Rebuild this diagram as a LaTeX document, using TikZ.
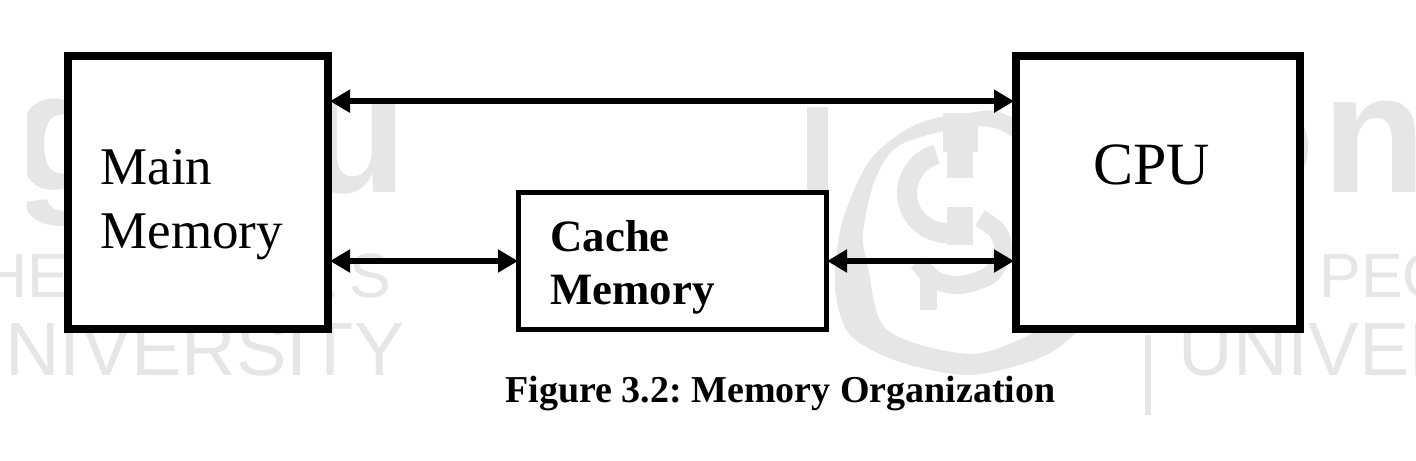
\documentclass[tikz,border=0pt]{standalone}
\usepackage{fontspec}
\setmainfont{Liberation Serif}
\newfontfamily\wmfont{Liberation Sans}
\usetikzlibrary{arrows.meta,calc}
\definecolor{wm}{HTML}{E6E6E6}
\tikzset{
  bigbox/.style={draw=black,fill=white,line width=4pt,minimum height=136.5pt,inner sep=0pt},
  midbox/.style={draw=black,fill=white,line width=2.5pt,minimum height=68.5pt,minimum width=154pt,inner sep=0pt},
  biarrow/.style={line width=3pt,{Triangle[length=10pt,width=11pt]}-{Triangle[length=10pt,width=11pt]},shorten <=-1pt,shorten >=-1pt},
  label/.style={anchor=base west,inner sep=0pt,text=black},
  wmtext/.style={anchor=base west,inner sep=0pt,text=wm},
  wmbig/.style={wmtext,font=\wmfont\bfseries\fontsize{85pt}{85pt}\selectfont},
  wmmid/.style={wmtext,font=\wmfont\fontsize{31.3pt}{31.3pt}\selectfont},
  wmlow/.style={wmtext,font=\wmfont\fontsize{37.8pt}{37.8pt}\selectfont},
  wmband/.style={draw=wm,line width=10pt,smooth},
}
\begin{document}
\frenchspacing
\begin{tikzpicture}[x=0.5pt,y=-0.5pt]
\useasboundingbox (0,0) rectangle (1416,460);
% watermark
\begin{scope}
\clip (27,90) rectangle (200,240);
\node[wmbig] (wg) at (13,190) {g};
\end{scope}
\node[wmbig] (wu) at (303,192) {u};
\node[wmbig] (wn) at (1322,192) {n};
\node[wmmid] (wpl) at (-18,297) {HE PEOPLE'S};
\node[wmmid] (wpr) at (1319,297) {PEO};
\node[wmlow] (wul) at (5,375) {NIVERSITY};
\node[wmlow] (wur) at (1178,375) {UNIVER};
\fill[wm] (807,107) rectangle (828,300);
\fill[wm] (1145,335) rectangle (1151,415);
\draw[wmband] plot[domain=-50:60,samples=20] ({1254+44*cos(\x)},{147+44*sin(\x)});
\fill[wm,even odd rule]
  plot[smooth cycle] coordinates {(967,113) (1012,118) (1100,200) (1100,300) (1077,332) (1040,358) (970,375) (900,362) (850,335) (835,287) (842,223) (870,160) (915,125)}
  plot[smooth cycle] coordinates {(967,127) (1012,137) (1100,220) (1060,310) (1033,333) (970,354) (887,330) (868,267) (863,233) (875,180) (900,145)};
\draw[wmband] plot[domain=255:90,samples=30] ({947+40*cos(\x)},{193+40*sin(\x)});
\fill[wm] (943,113) rectangle (978,152);
\fill[wm] (947,150) rectangle (973,178);
\fill[wm] (947,207) rectangle (973,245);
\draw[wm,line width=9pt] plot[smooth] coordinates {(980,218) (998,232) (1003,252) (990,275) (960,285) (935,280) (918,262)};
\fill[wm] (920,280) rectangle (937,310);
% boxes
\node[bigbox,minimum width=130.25pt] (main) at (197.75,192.5) {};
\node[bigbox,minimum width=142pt] (cpu) at (1158,192.5) {};
\node[midbox] (cache) at (672.5,261) {};
% text
\node[label,font=\fontsize{26.5pt}{26.5pt}\selectfont] (t1) at (100,184) {Main};
\node[label,font=\fontsize{26.5pt}{26.5pt}\selectfont] (t2) at (100,248) {Memory};
\node[label,font=\fontsize{30pt}{30pt}\selectfont] (t3) at (1093,184) {CPU};
\node[label,font=\bfseries\fontsize{22.4pt}{22.4pt}\selectfont] (t4) at (550,251) {Cache};
\node[label,font=\bfseries\fontsize{22.4pt}{22.4pt}\selectfont] (t5) at (550,304) {Memory};
\node[label,font=\bfseries\fontsize{19pt}{19pt}\selectfont] (cap) at (505,402) {Figure 3.2: Memory Organization};
% connectors
\coordinate (topl) at ($(main.north east)!0.175!(main.south east)$);
\coordinate (topr) at ($(cpu.north west)!0.175!(cpu.south west)$);
\draw[biarrow] (topl) -- (topr);
\draw[biarrow] (cache.west -| main.east) -- (cache.west);
\draw[biarrow] (cache.east) -- (cache.east -| cpu.west);
\end{tikzpicture}
\end{document}
